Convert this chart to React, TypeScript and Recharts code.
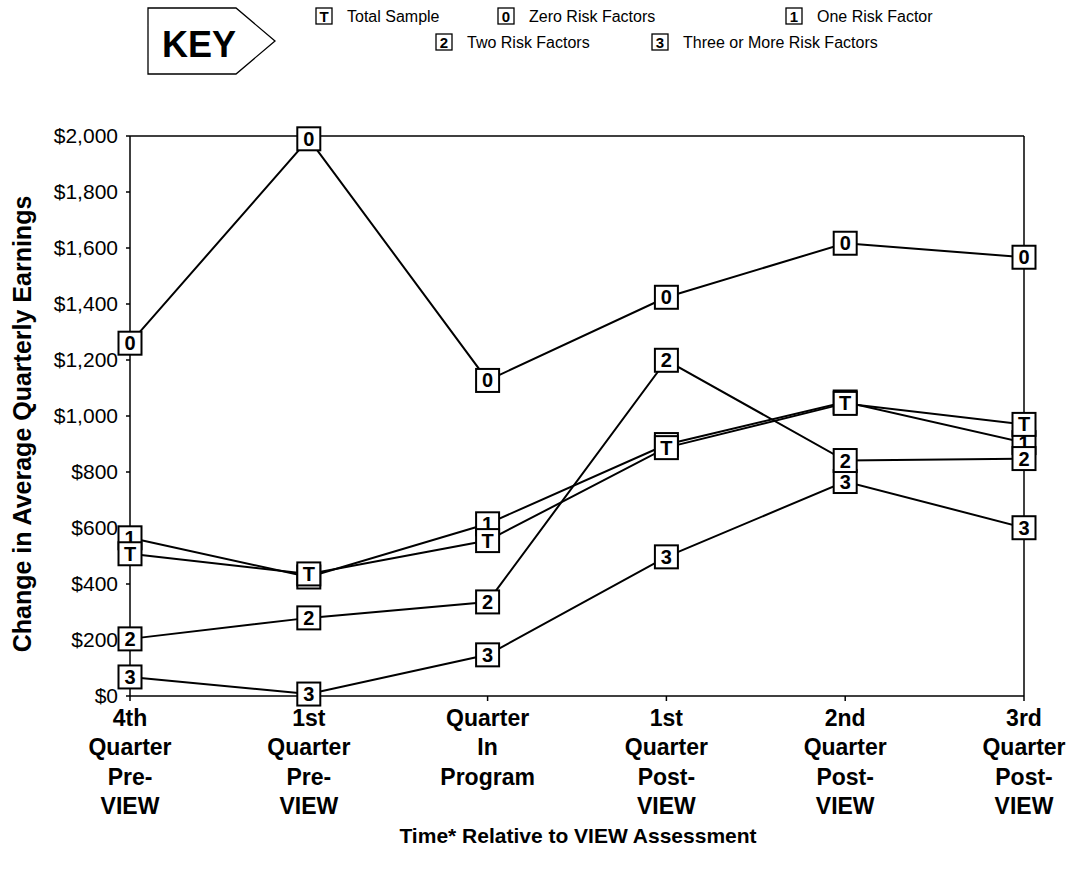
import React from 'react';
import { ComposedChart, Line, XAxis, YAxis, ReferenceLine } from 'recharts';

const categories = [
  '4th Quarter Pre-VIEW',
  '1st Quarter Pre-VIEW',
  'Quarter In Program',
  '1st Quarter Post-VIEW',
  '2nd Quarter Post-VIEW',
  '3rd Quarter Post-VIEW',
];
const tickLines = [
  ['4th', 'Quarter', 'Pre-', 'VIEW'],
  ['1st', 'Quarter', 'Pre-', 'VIEW'],
  ['Quarter', 'In', 'Program'],
  ['1st', 'Quarter', 'Post-', 'VIEW'],
  ['2nd', 'Quarter', 'Post-', 'VIEW'],
  ['3rd', 'Quarter', 'Post-', 'VIEW'],
];
const totalSample = [508, 436, 555, 887, 1045, 970];
const zeroRisk = [1260, 1990, 1127, 1424, 1617, 1567];
const oneRisk = [565, 425, 615, 898, 1050, 905];
const twoRisk = [204, 279, 336, 1199, 841, 848];
const threeRisk = [68, 7, 147, 497, 766, 601];
const yTicks = [0, 200, 400, 600, 800, 1000, 1200, 1400, 1600, 1800, 2000];

const legendRow1 = [
  { letter: 'T', label: 'Total Sample', x: 316 },
  { letter: '0', label: 'Zero Risk Factors', x: 498 },
  { letter: '1', label: 'One Risk Factor', x: 786 },
];
const legendRow2 = [
  { letter: '2', label: 'Two Risk Factors', x: 436 },
  { letter: '3', label: 'Three or More Risk Factors', x: 652 },
];

const FONT = '"Liberation Sans", Arial, Helvetica, sans-serif';

const data = categories.map((c, i) => ({
  cat: c,
  total: totalSample[i],
  zero: zeroRisk[i],
  one: oneRisk[i],
  two: twoRisk[i],
  three: threeRisk[i],
}));

const makeDot = (letter: string) => (props: any) => {
  const { cx, cy, index } = props;
  if (cx == null || cy == null) return <g key={`${letter}-${index}`} />;
  return (
    <g key={`${letter}-${index}`}>
      <rect x={cx - 11.5} y={cy - 11.5} width={23} height={23} fill="#fff" stroke="#000" strokeWidth={2} />
      <text x={cx} y={cy + 7} textAnchor="middle" fontFamily={FONT} fontWeight="bold" fontSize={20} fill="#000">
        {letter}
      </text>
    </g>
  );
};

const XTick = (props: any) => {
  const { x, y, payload } = props;
  const idx = categories.indexOf(payload.value);
  const lines = tickLines[idx] || [];
  return (
    <g>
      {lines.map((l, i) => (
        <text key={i} x={x} y={y + 23 + i * 29.3} textAnchor="middle" fontFamily={FONT} fontWeight="bold" fontSize={23} fill="#000">
          {l}
        </text>
      ))}
    </g>
  );
};

const fmt = (v: number) => '$' + v.toLocaleString('en-US');

const series = [
  { key: 'one', letter: '1' },
  { key: 'zero', letter: '0' },
  { key: 'three', letter: '3' },
  { key: 'two', letter: '2' },
  { key: 'total', letter: 'T' },
];

const LegendBox = ({ x, y, letter }: { x: number; y: number; letter: string }) => (
  <g>
    <rect x={x} y={y} width={16} height={16} fill="#fff" stroke="#000" strokeWidth={1.3} />
    <text x={x + 8} y={y + 13.5} textAnchor="middle" fontFamily={FONT} fontWeight="bold" fontSize={15} fill="#000">
      {letter}
    </text>
  </g>
);

const Key = () => (
  <svg width={1078} height={90} style={{ position: 'absolute', left: 0, top: 0 }}>
    <polygon points="148,8 236,8 275,41 236,74 148,74" fill="#fff" stroke="#000" strokeWidth={1.3} />
    <text x={199} y={57} textAnchor="middle" fontFamily={FONT} fontWeight="bold" fontSize={36} fill="#000">
      KEY
    </text>
    {legendRow1.map((it) => (
      <g key={it.letter}>
        <LegendBox x={it.x} y={8} letter={it.letter} />
        <text x={it.x + 31} y={22} fontFamily={FONT} fontSize={16} fill="#000">
          {it.label}
        </text>
      </g>
    ))}
    {legendRow2.map((it) => (
      <g key={it.letter}>
        <LegendBox x={it.x} y={34} letter={it.letter} />
        <text x={it.x + 31} y={48} fontFamily={FONT} fontSize={16} fill="#000">
          {it.label}
        </text>
      </g>
    ))}
  </svg>
);

export default function App() {
  return (
    <div style={{ position: 'absolute', left: 0, top: 0, width: 1078, height: 872, background: '#fff' }}>
      <ComposedChart
        width={1078}
        height={872}
        data={data}
        margin={{ top: 136, right: 54, left: 0, bottom: 0 }}
      >
        <XAxis
          dataKey="cat"
          height={176}
          tick={<XTick />}
          tickSize={5}
          interval={0}
          stroke="#000"
          strokeWidth={1.5}
          tickLine={{ stroke: '#000' }}
          label={{
            content: () => (
              <text x={578} y={843} textAnchor="middle" fontFamily={FONT} fontWeight="bold" fontSize={21} fill="#000">
                Time* Relative to VIEW Assessment
              </text>
            ),
          }}
        />
        <YAxis
          width={130}
          domain={[0, 2000]}
          ticks={yTicks}
          tickFormatter={fmt}
          tickSize={4}
          tickMargin={8}
          interval={0}
          stroke="#000"
          strokeWidth={1.5}
          tick={{ fill: '#000', fontSize: 21, fontFamily: FONT }}
          label={{
            content: () => (
              <text
                x={31}
                y={424}
                transform="rotate(-90 31 424)"
                textAnchor="middle"
                fontFamily={FONT}
                fontWeight="bold"
                fontSize={25}
                fill="#000"
              >
                Change in Average Quarterly Earnings
              </text>
            ),
          }}
        />
        <ReferenceLine y={2000} stroke="#000" strokeWidth={1.5} />
        <ReferenceLine x={categories[5]} stroke="#000" strokeWidth={1.5} />
        {series.map((s) => (
          <Line
            key={`line-${s.key}`}
            type="linear"
            dataKey={s.key}
            stroke="#000"
            strokeWidth={2}
            dot={false}
            activeDot={false}
            isAnimationActive={false}
          />
        ))}
        {series.map((s) => (
          <Line
            key={`dot-${s.key}`}
            type="linear"
            dataKey={s.key}
            stroke="none"
            strokeWidth={0}
            dot={makeDot(s.letter)}
            activeDot={false}
            isAnimationActive={false}
          />
        ))}
      </ComposedChart>
      <Key />
    </div>
  );
}
